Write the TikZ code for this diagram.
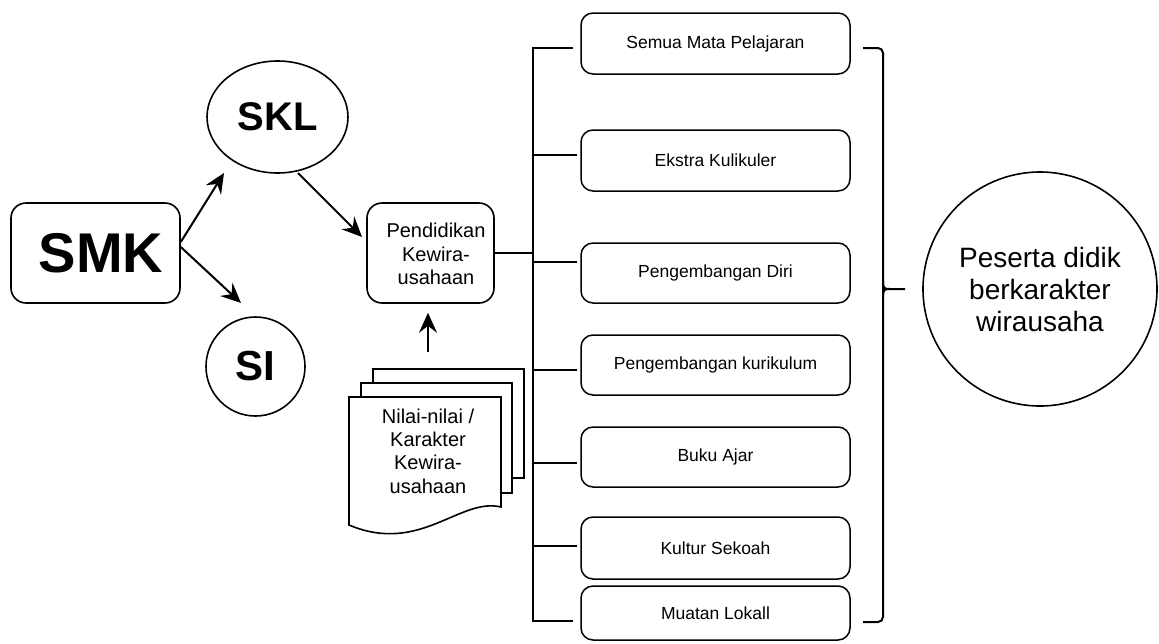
\documentclass[tikz,border=0pt]{standalone}
\usepackage{fontspec}
\setmainfont{Liberation Sans}
\usetikzlibrary{arrows.meta,shapes.geometric}
\begin{document}
\begin{tikzpicture}[x=1pt,y=-1pt,
  itembox/.style={draw, line width=1.5pt, rounded corners=12pt, minimum width=269pt, inner sep=0pt, font=\fontsize{17.5}{21}\selectfont},
  conn/.style={line width=2pt, -{Stealth[length=20pt,width=18pt,inset=7pt]}},
  bracketline/.style={line width=2pt},
  shapeline/.style={draw, line width=1.6pt},
  sheet/.style={draw, line width=1.6pt, fill=white}
]
\useasboundingbox (0,0) rectangle (1159,643);

% left part
\node[shapeline, rounded corners=15pt, minimum width=169pt, minimum height=100pt, inner sep=0pt] (smk) at (95.5,253) {};
\node[inner sep=0pt, font=\bfseries\fontsize{56}{60}\selectfont] (smktext) at (101,253) {SMK};
\node[shapeline, ellipse, minimum width=141pt, minimum height=112pt, inner sep=0pt,
      font=\bfseries\fontsize{40}{44}\selectfont] (skl) at (277.5,117) {SKL};
\node[shapeline, circle, minimum size=99pt, inner sep=0pt,
      font=\bfseries\fontsize{42}{46}\selectfont] (si) at (255.5,366.5) {SI};
\node[shapeline, rounded corners=15pt, minimum width=127pt, minimum height=100pt, inner sep=0pt] (pend) at (430.5,253) {};
\node[align=center, inner sep=0pt, font=\fontsize{20}{23.5}\selectfont] (pendtext) at (436,254) {Pendidikan\\Kewira-\\usahaan};

\coordinate (sklin) at (224,173);
\coordinate (siin) at (241,303);
\coordinate (sklout) at (298,173);
\coordinate (pendin) at (362,237);
\draw[conn] ([yshift=11pt]smk.east) -- (sklin);
\draw[conn] ([yshift=6pt]smk.east) -- (siin);
\draw[conn] (sklout) -- (pendin);

% document stack
\draw[sheet] (373,369) rectangle (524,478);
\draw[sheet] (361,383) rectangle (512,493);
\draw[sheet] (349,397) -- (501,397) -- (501,507) .. controls (460,497) and (420,555) .. (349,525) -- cycle;
\node[align=center, inner sep=0pt, font=\fontsize{20}{23.3}\selectfont] (doc) at (428,451) {Nilai-nilai /\\Karakter\\Kewira-\\usahaan};
\coordinate (docarrow) at (428,352);
\draw[conn, shorten >=9pt] (docarrow) -- (docarrow |- pend.south);

% item boxes
\node[itembox, minimum height=61pt] (b1) at (715.5,43.5) {Semua Mata Pelajaran};
\node[itembox, minimum height=61pt] (b2) at (715.5,160.5) {Ekstra Kulikuler};
\node[itembox, minimum height=60pt] (b3) at (715.5,273) {Pengembangan Diri};
\node[itembox, minimum height=60pt] (b4) at (715.5,365) {Pengembangan kurikulum};
\node[itembox, minimum height=60pt] (b5) at (715.5,457) {Buku Ajar};
\node[itembox, minimum height=62pt] (b6) at (715.5,548) {Kultur Sekoah};
\node[itembox, minimum height=54pt] (b7) at (715.5,613) {Muatan Lokall};

% left bracket
\coordinate (lt) at (573,48);
\coordinate (spinetop) at (533,48);
\coordinate (spinebot) at (533,621);
\coordinate (lb) at (573,621);
\draw[bracketline] (lt) -- (spinetop) -- (spinebot) -- (lb);
\draw[bracketline] (pend.east) -- (pend.east -| spinetop);
\draw[bracketline] ([yshift=5.5pt]b2.west -| spinetop) -- ([xshift=-3pt,yshift=5.5pt]b2.west);
\draw[bracketline] ([yshift=11pt]b3.west -| spinetop) -- ([xshift=-3pt,yshift=11pt]b3.west);
\draw[bracketline] ([yshift=-5pt]b4.west -| spinetop) -- ([xshift=-3pt,yshift=-5pt]b4.west);
\draw[bracketline] ([yshift=-6pt]b5.west -| spinetop) -- ([xshift=-3pt,yshift=-6pt]b5.west);
\draw[bracketline] ([yshift=2pt]b6.west -| spinetop) -- ([xshift=-3pt,yshift=2pt]b6.west);

% right brace
\coordinate (rt) at (863,48);
\coordinate (rb) at (863,622);
\draw[bracketline, rounded corners=5pt] (rt) -- (883,48) -- (883,622) -- (rb);
\coordinate (bracetip) at (905,289);
\draw[bracketline] (883,281) .. controls (883,289) and (885,289) .. (890,289) -- (bracetip);
\draw[bracketline] (883,297) .. controls (883,289) and (885,289) .. (890,289);

% result
\node[shapeline, circle, minimum size=234pt, inner sep=0pt, align=center,
      font=\fontsize{28}{32}\selectfont] (ps) at (1040,289) {Peserta didik\\berkarakter\\wirausaha};
\end{tikzpicture}
\end{document}
